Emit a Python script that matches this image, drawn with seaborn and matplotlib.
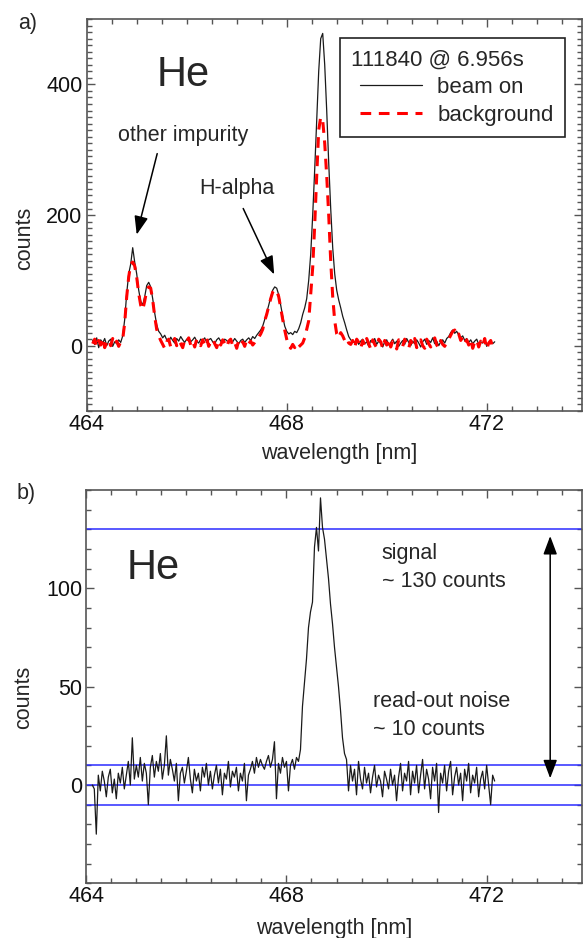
import numpy as np
import matplotlib
matplotlib.use("Agg")
import matplotlib.pyplot as plt
from matplotlib.ticker import MultipleLocator
from matplotlib.lines import Line2D
from matplotlib.legend_handler import HandlerLine2D
import seaborn as sns

# spectrometer pixel grid (nm)
wavelength = np.round(np.linspace(464.12, 472.16, 202), 2)

# panel a: raw spectra
beam_on = [
    8, 2, 12, -3, 9, 4, 11, 0, 7, 10, -1, 6, 3, 9, 5,
    15, 40, 80, 110, 125, 150, 128, 110, 85, 68, 62, 75, 92, 97, 90, 72, 50, 32, 22, 18,
    12, 16, 9, 6, 13, 8, 4, 11, 7, 14, 9, 5, 10, 12, 6, 9, 13, 7, 4, 10,
    8, 12, 5, 9, 11, 6, 3, 9, 12, 7, 5, 10, 8, 4, 9, 6, 11, 7, 3, 8,
    10, 5, 9, 12, 8, 14, 11, 16, 20, 24,
    30, 40, 50, 62, 74, 85, 90, 88, 78, 62, 45, 30, 22, 18, 20, 17, 22, 20, 26, 35,
    48, 58, 72, 100, 140, 200, 270, 345, 420, 470, 478, 430, 360, 280, 210,
    150, 110, 85, 70, 58, 45, 35, 24, 14, 9, 6,
    4, 9, 2, 7, 10, 3, 6, -1, 8, 5, 11, 2, 7, 4, -2, 6, 9, 1, 5, 10,
    3, 7, -1, 4, 8, 2, 11, 5, 0, 7, 3, 9, 4, -2, 6, 10, 2, 8, 5, 12,
    3, 7, 0, 6, 9, 4, 11,
    14, 20, 24, 19, 22, 16, 12, 15, 8, 11,
    5, 9, 3, 7, 10, 2, 6, 4, 9, -1, 5, 8, 3, 6,
]
background = [
    3, 10, -2, 8, 1, 12, -3, 6, 9, 0, 11, 2, 7, -1, 6,
    10, 35, 75, 105, 125, 128, 122, 105, 80, 62, 55, 68, 85, 90, 88, 70, 45, 25, 15, 8,
    2, -4, 6, 10, -2, 4, 11, 0, 8, 3, -3, 9, 5, 12, 1, 7, -2, 10, 4, 0,
    9, 2, 11, -1, 6, 10, 3, -3, 8, 1, 9, 4, -2, 7, 10, 0, 5, -4, 8, 2,
    6, -1, 9, 3, 7, 1, 5, 10, 13, 18,
    25, 38, 48, 60, 72, 82, 86, 84, 75, 58, 40, 24, 10, 0, -4, 2, -3, 3, -2, 1,
    4, 12, 25, 38, 80, 120, 185, 260, 330, 350, 345, 310, 260, 200, 130,
    75, 38, 18, 12, 20, 15, 8, 12, 4, 2, 8,
    -3, 10, 5, -4, 8, 0, 11, 3, -5, 9, 2, -3, 10, 6, -4, 8, 1, 11, -2, 7,
    3, -5, 9, 4, -1, 10, 2, -4, 8, 1, 11, -3, 6, 9, 0, -4, 10, 3, -2, 7,
    12, 1, -3, 8, 2, -1, 6,
    10, 16, 22, 24, 15, 18, 8, 13, 4, 9,
    1, 10, -4, 6, 9, -2, 7, 0, 11, -5, 4, 8, -3, 2,
]

# panel b: beam on minus background
difference = [
    0, -2, -25, 5, -3, 7, 2, -6, 4, 8,
    -4, 3, -7, 6, 1, 9, -2, 5, 12, 0,
    24, 3, 10, 4, 14, 2, 11, 6, -10, 9,
    15, 4, 12, 7, 16, 3, 10, 25, 5, 13,
    8, 2, 11, -8, 6, 9, 1, 7, 14, 3,
    -4, 8, 2, 6, -3, 9, 4, 11, 0, 7,
    -2, 5, 10, 1, 8, -5, 6, 3, 12, -1,
    7, 4, 9, -3, 6, 2, 11, -8, 5, 8,
    12, 6, 14, 9, 13, 10, 8, 12, 15, 9,
    13, 22, -7, 11, 6, 14, 9, 12, -3, 10,
    13, 8, 14, 12, 18, 40, 52, 64, 80, 88,
    93, 121, 131, 119, 146, 131, 125, 115, 105, 92,
    82, 70, 60, 50, 38, 24, 16, 13, -3, 10,
    2,
    8, -5, 12, 3, -2, 9, 1, 6, -4, 4,
    10, -1, 5, 2, -6, 7, 3, -2, 8, 0,
    5, -8, 4, 11, -3, 6, 2, 12, -5, 7,
    1, 10, -4, 5, 13, -2, 8, 3, -7, 9,
    2, 11, -14, 6, 1, 10, -3, 7, 12, -5,
    4, 9, 0, 6, -8, 8, 2, 11, -4, 5,
    1, 9, -6, 3, 7, -2, 10, 0, -10, 5, 2,
]

signal_level = 130
noise_levels = [10, 0, -10]

assert len(beam_on) == len(background) == len(difference) == len(wavelength)

sns.set_style("ticks")
plt.rcParams["font.family"] = ["Liberation Sans", "DejaVu Sans"]
plt.rcParams["font.size"] = 15.5

fig = plt.figure(figsize=(5.87, 9.38), dpi=100)
ax_a = fig.add_axes([0.1477, 0.5618, 0.8433, 0.4179])
ax_b = fig.add_axes([0.1470, 0.0583, 0.8440, 0.4193])


def style_axes(ax, yminor):
    ax.set_xlim(464, 473.9)
    ax.xaxis.set_major_locator(MultipleLocator(4))
    ax.xaxis.set_minor_locator(MultipleLocator(0.5))
    ax.yaxis.set_minor_locator(MultipleLocator(yminor))
    ax.tick_params(which="both", direction="in", top=True, right=True,
                   color="#555555", width=1.0, labelsize=15.5, labelcolor="#111111")
    ax.tick_params(which="major", length=6)
    ax.tick_params(which="minor", length=3.5)
    ax.tick_params(axis="x", pad=2)
    ax.tick_params(axis="y", pad=3)
    for s in ax.spines.values():
        s.set_color("#555555")
        s.set_linewidth(1.2)


arrow = dict(arrowstyle="-|>,head_length=0.8,head_width=0.3", mutation_scale=14,
             color="black", lw=1.1, shrinkA=0, shrinkB=0)

# ---- panel a ----
sns.lineplot(x=wavelength, y=beam_on, ax=ax_a, color="#1a1a1a", lw=0.9,
             label="beam on", errorbar=None)
sns.lineplot(x=wavelength, y=background, ax=ax_a, color="red", lw=2.2,
             linestyle=(0, (3.5, 2.5)), label="background", errorbar=None)
style_axes(ax_a, 10)
ax_a.set_ylim(-100, 500)
ax_a.set_yticks([0, 200, 400])
ax_a.set_xlabel("wavelength [nm]", fontsize=15.5)
ax_a.set_ylabel("counts", fontsize=15.5)
ax_a.xaxis.set_label_coords(0.51, -0.082)
ax_a.yaxis.set_label_coords(-0.105, 0.441)

ax_a.text(465.39, 397, "He", fontsize=30, ha="left", va="baseline")
ax_a.text(465.93, 321, "other impurity", fontsize=15.5, ha="center", va="center")
ax_a.text(467.0, 241, "H-alpha", fontsize=15.5, ha="center", va="center")
ax_a.annotate("", xy=(465.0, 170), xytext=(465.41, 294), arrowprops=arrow)
ax_a.annotate("", xy=(467.75, 109), xytext=(467.13, 210), arrowprops=arrow)

leg = ax_a.legend(title="111840 @ 6.956s", loc="upper left",
                  bbox_to_anchor=(0.5117, 0.9508), frameon=True, fancybox=False,
                  edgecolor="#222222", framealpha=1, fontsize=16, title_fontsize=16,
                  handlelength=3.2, handletextpad=0.68, borderpad=0.5,
                  labelspacing=0.3, borderaxespad=0, alignment="left",
                  handler_map={Line2D: HandlerLine2D(xpad=0.4)})
leg.get_frame().set_linewidth(1.2)

# ---- panel b ----
for lvl in [signal_level] + noise_levels:
    ax_b.axhline(lvl, color="#2b2bff", lw=1.1, zorder=1)
sns.lineplot(x=wavelength, y=difference, ax=ax_b, color="#1a1a1a", lw=0.9,
             errorbar=None, zorder=2)
style_axes(ax_b, 10)
ax_b.set_ylim(-50, 150)
ax_b.set_yticks([0, 50, 100])
ax_b.set_xlabel("wavelength [nm]", fontsize=15.5)
ax_b.set_ylabel("counts", fontsize=15.5)
ax_b.xaxis.set_label_coords(0.50, -0.088)
ax_b.yaxis.set_label_coords(-0.105, 0.474)

ax_b.text(464.81, 105, "He", fontsize=30, ha="left", va="baseline")
ax_b.text(469.9, 117.8, "signal", fontsize=15.5, ha="left", va="center")
ax_b.text(469.9, 103.7, "~ 130 counts", fontsize=15.5, ha="left", va="center")
ax_b.text(469.73, 42.4, "read-out noise", fontsize=15.5, ha="left", va="center")
ax_b.text(469.73, 28.3, "~ 10 counts", fontsize=15.5, ha="left", va="center")
ax_b.annotate("", xy=(473.27, 3.4), xytext=(473.27, 126.6),
              arrowprops=dict(arrowstyle="<|-|>,head_length=0.8,head_width=0.3",
                              mutation_scale=14, color="black", lw=1.1,
                              shrinkA=0, shrinkB=0))

fig.text(28 / 587, 1 - 23 / 938, "a)", fontsize=15.5, ha="center", va="center")
fig.text(26 / 587, 1 - 493 / 938, "b)", fontsize=15.5, ha="center", va="center")

fig.savefig("out.png", dpi=100)
